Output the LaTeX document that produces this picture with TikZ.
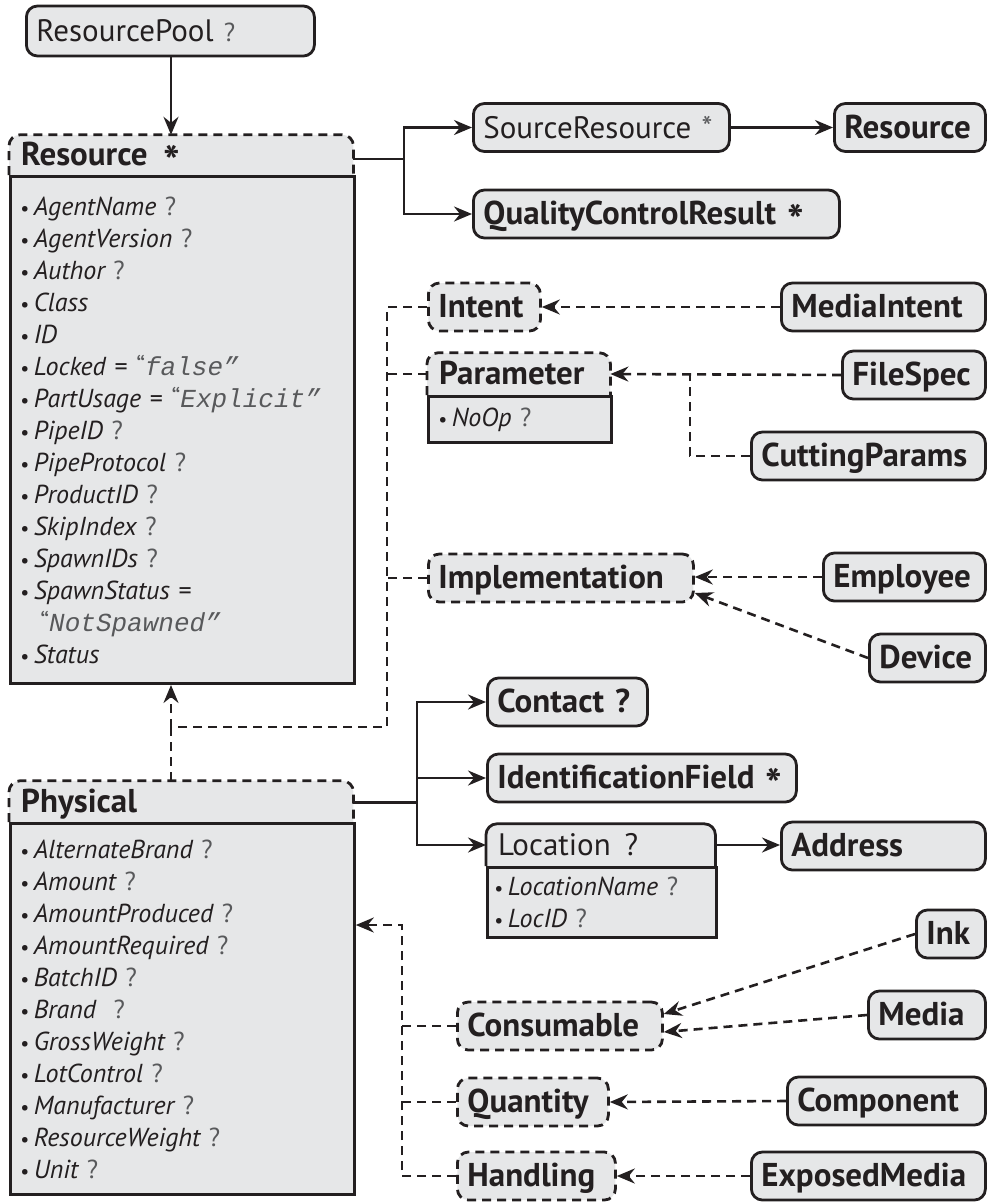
\documentclass[tikz,border=0pt]{standalone}
\usepackage{fontspec}
\setmainfont{PT Sans}
\setmonofont{Liberation Mono}
\usetikzlibrary{arrows.meta,backgrounds}
\definecolor{boxfill}{HTML}{E6E7E8}
\definecolor{ink}{HTML}{231F20}
\definecolor{qgray}{HTML}{58595B}
\newcommand\bul{{\fontsize{20}{32}\selectfont\upshape\textbullet}\,}
\newcommand\opt{\ {\upshape\mdseries\color{qgray}?}}
\newcommand\many{\raisebox{-12pt}{\fontsize{44}{44}\selectfont *}}
\newcommand\val[1]{{\upshape\color{qgray}“}{\color{qgray}\ttfamily\itshape #1”}}
\tikzset{
  box/.style={draw=ink, text=ink, fill=boxfill, line width=2.8pt, rounded corners=11pt, anchor=west, align=left,
    inner xsep=10pt, inner ysep=0pt, minimum height=48pt, text height=28pt, text depth=7pt,
    font=\fontsize{33}{36}\selectfont\bfseries},
  abox/.style={box, dash pattern=on 9pt off 6pt},
  headbox/.style={text=ink, anchor=west, align=left, inner xsep=12pt, inner ysep=0pt, text height=28pt, text depth=7pt,
    font=\fontsize{33}{36}\selectfont\bfseries},
  bodybox/.style={draw=ink, text=ink, fill=boxfill, line width=2.8pt, anchor=north west, align=left,
    inner xsep=10pt, inner ysep=0pt, font=\fontsize{26}{32}\selectfont\itshape},
  line/.style={draw=ink, line width=2.6pt},
  dline/.style={line, dash pattern=on 9pt off 6pt},
  arr/.style={line, -{Stealth[length=18pt,width=15pt,inset=6pt]}},
  darr/.style={arr, dash pattern=on 9pt off 6pt}
}
\begin{document}
\begin{tikzpicture}[x=1pt,y=-1pt]
\useasboundingbox (0,0) rectangle (988,1202);

% top
\node (pool) [box, minimum height=50pt, text width=268pt, font=\fontsize{31}{34}\selectfont\mdseries] at (25,31)
  {ResourcePool\ {\fontsize{26}{28}\selectfont\color{qgray}?}};

\node (reshead) [headbox, text width=320pt, minimum height=40pt] at (9,155) {Resource\hspace{16pt}\many};
\node (resbody) [bodybox, text width=324pt, minimum height=507pt] at (reshead.south west) {%
  \bul AgentName\opt\\
  \bul AgentVersion\opt\\
  \bul Author\opt\\
  \bul Class\\
  \bul ID\\
  \bul Locked {\upshape=} \val{false}\\
  \bul PartUsage {\upshape=} \val{Explicit}\\
  \bul PipeID\opt\\
  \bul PipeProtocol\opt\\
  \bul ProductID\opt\\
  \bul SkipIndex\opt\\
  \bul SpawnIDs\opt\\
  \bul SpawnStatus {\upshape=}\\
  \hspace*{20pt}\val{NotSpawned}\\
  \bul Status};

\node (src) [box, text width=236pt, font=\fontsize{31}{34}\selectfont\mdseries] at (472,127.5)
  {SourceResource {\color{qgray}*}};
\node (resref) [box, text width=131pt] at (833,127.5) {Resource};
\node (qcr) [box, text width=346pt] at (472,214) {QualityControlResult~\many};

% resource subtypes
\node (intent) [abox, text width=92pt] at (427,307) {Intent};
\node (mintent) [box, text width=184pt] at (780,307) {MediaIntent};

\node (paramhead) [headbox, text width=159pt, minimum height=42pt] at (427,374) {Parameter};
\node (parambody) [bodybox, text width=163pt, minimum height=46pt] at (paramhead.south west) {\bul NoOp\opt};
\node (filespec) [box, text width=123pt] at (841,375) {FileSpec};
\node (cutting) [box, text width=214pt] at (750,456) {CuttingParams};

\node (impl) [abox, text width=245pt] at (427,578) {Implementation};
\node (employee) [box, text width=142pt] at (822,577) {Employee};
\node (device) [box, text width=96pt] at (868,658) {Device};

% physical
\node (physhead) [headbox, text width=320pt, minimum height=41pt] at (9,801.5) {Physical};
\node (physbody) [bodybox, text width=324pt, minimum height=371pt] at (physhead.south west) {%
  \bul AlternateBrand\opt\\
  \bul Amount\opt\\
  \bul AmountProduced\opt\\
  \bul AmountRequired\opt\\
  \bul BatchID\opt\\
  \bul Brand\ \opt\\
  \bul GrossWeight\opt\\
  \bul LotControl\opt\\
  \bul Manufacturer\opt\\
  \bul ResourceWeight\opt\\
  \bul Unit\opt};

\node (contact) [box, text width=140pt] at (486,702) {Contact~?};
\node (idf) [box, text width=289pt] at (486,778) {IdentificationField~\many};
\node (lochead) [headbox, text width=205pt, minimum height=42pt, font=\fontsize{31}{34}\selectfont\mdseries] at (486,845)
  {Location\hspace{14pt}?};
\node (locbody) [bodybox, text width=215pt, inner xsep=7pt, minimum height=70pt] at (lochead.south west) {%
  \bul LocationName\opt\\
  \bul LocID\opt};
\node (address) [box, text width=184pt] at (780,846) {Address};

\node (consumable) [abox, text width=185pt] at (456,1026) {Consumable};
\node (quantity) [abox, text width=131pt] at (456,1102) {Quantity};
\node (handling) [abox, text width=138pt] at (456,1176) {Handling};
\node (ink) [box, text width=49pt] at (915,934) {Ink};
\node (media) [box, text width=97pt] at (867,1015) {Media};
\node (component) [box, text width=178pt] at (786,1101) {Component};
\node (exposed) [box, text width=214pt] at (750,1176) {ExposedMedia};

% header outlines
\begin{scope}[on background layer]
  \draw[dline, line width=2.8pt, fill=boxfill, rounded corners=11pt] (reshead.south west) -- (reshead.north west) -- (reshead.north east) -- (reshead.south east);
  \draw[dline, line width=2.8pt, fill=boxfill, rounded corners=11pt] (paramhead.south west) -- (paramhead.north west) -- (paramhead.north east) -- (paramhead.south east);
  \draw[dline, line width=2.8pt, fill=boxfill, rounded corners=11pt] (physhead.south west) -- (physhead.north west) -- (physhead.north east) -- (physhead.south east);
  \draw[line, line width=2.8pt, fill=boxfill, rounded corners=11pt] (lochead.south west) -- (lochead.north west) -- (lochead.north east) -- (lochead.south east);
\end{scope}

\coordinate (up) at (171,0);
\coordinate (rb) at (404,0);
\coordinate (pb) at (417,0);
\coordinate (sp1) at (387,727);
\coordinate (sp2) at (402,925);
\coordinate (cj) at (690,374);

% solid links
\draw[arr] (pool.south -| up) -- (reshead.north -| up);
\draw[arr] ([yshift=-4pt]reshead.east) -- ([yshift=-4pt]reshead.east -| rb) |- (src.west);
\draw[arr] ([yshift=-4pt]reshead.east -| rb) |- (qcr.west);
\draw[arr] (src.east) -- (resref.west);
\draw[arr] ([yshift=-1pt]physhead.east) -- ([yshift=-1pt]physhead.east -| pb) |- (contact.west);
\draw[arr] ([yshift=-1pt]physhead.east -| pb) |- (idf.west);
\draw[arr] ([yshift=-1pt]physhead.east -| pb) |- (lochead.west);
\draw[arr] (lochead.east) -- (lochead.east -| address.west);

% dashed links
\draw[darr] (intent.west) -| (sp1) -| (resbody.south -| up);
\draw[dline] (paramhead.west) -- (paramhead.west -| sp1);
\draw[dline] (impl.west) -- (impl.west -| sp1);
\draw[dline] (physhead.north -| up) -- (up |- sp1);
\draw[darr] (mintent.west) -- (intent.east);
\draw[darr] (filespec.west) -- (paramhead.east);
\draw[dline] (cutting.west) -| (cj);
\draw[darr] (employee.west) -- (employee.west -| impl.east);
\draw[darr] (device.west) -- ([yshift=-15pt]impl.east);
\draw[darr] (handling.west) -| (sp2) -- (sp2 -| physbody.east);
\draw[dline] (consumable.west) -- (consumable.west -| sp2);
\draw[dline] (quantity.west) -- (quantity.west -| sp2);
\draw[darr] (ink.west) -- ([yshift=12pt]consumable.east);
\draw[darr] (media.west) -- ([yshift=-6pt]consumable.east);
\draw[darr] (component.west) -- (quantity.east);
\draw[darr] (exposed.west) -- (handling.east);
\end{tikzpicture}
\end{document}
